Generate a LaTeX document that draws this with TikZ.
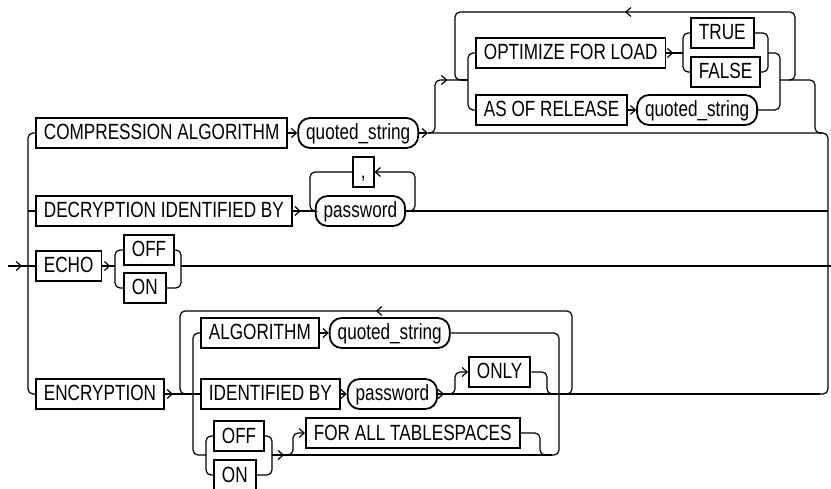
\documentclass[tikz,border=0pt]{standalone}
\usepackage{fontspec}
\setmainfont{Liberation Sans}[FakeStretch=0.78]
\usepackage{tikz}
\usetikzlibrary{arrows.meta,positioning,decorations.markings}

\begin{document}
\begin{tikzpicture}[x=1pt, y=-1pt, >={Straight Barb[length=5pt,width=9pt]},
  every node/.style={font=\fontsize{22pt}{25pt}\selectfont},
  kw/.style={draw, line width=1.8pt, anchor=west, minimum height=30pt, inner xsep=8pt, inner ysep=0pt, text height=17.5pt, text depth=3.5pt},
  ph/.style={kw, rounded corners=12pt},
  rail/.style={line width=1.2pt, rounded corners=5pt},
  midarr/.style={postaction={decorate}, decoration={markings, mark=at position #1 with {\arrow{>}}}}]
  \useasboundingbox (0,0) rectangle (831,489);

  \node[kw] (comp) at (35,133) {COMPRESSION ALGORITHM};
  \node[ph, right=9pt of comp] (cqs) {quoted\_string};
  \node[kw] (opt) at (475,53) {OPTIMIZE FOR LOAD};
  \node[kw] (tru) at (690,33) {TRUE};
  \node[kw] (fal) at (690,72) {FALSE};
  \node[kw] (asof) at (475,110) {AS OF RELEASE};
  \node[ph, right=8pt of asof] (aqs) {quoted\_string};
  \node[kw] (decr) at (35,211) {DECRYPTION IDENTIFIED BY};
  \node[ph, right=22pt of decr] (pwd) {password};
  \node[kw] (comma) at (352,172) {,};
  \node[kw] (echo) at (35,266) {ECHO};
  \node[kw] (eoff) at (123,250) {OFF};
  \node[kw] (eon) at (123,288) {ON};
  \node[kw] (encr) at (35,394) {ENCRYPTION};
  \node[kw] (alg) at (200,333) {ALGORITHM};
  \node[ph, right=9pt of alg] (algqs) {quoted\_string};
  \node[kw] (idby) at (200,394) {IDENTIFIED BY};
  \node[ph, right=6pt of idby] (idpwd) {password};
  \node[kw] (only) at (468,372) {ONLY};
  \node[kw] (toff) at (213,436) {OFF};
  \node[kw] (ton) at (213,475) {ON};
  \node[kw] (fats) at (305,433) {FOR ALL TABLESPACES};

  \coordinate (in) at (8,266);
  \coordinate (out) at (831,266);
  \coordinate (lD) at (28,211);
  \coordinate (cJ) at (428,133);
  \coordinate (cM) at (822,133);
  \coordinate (rD) at (828,211);
  \coordinate (rN) at (820,394);
  \coordinate (lpL) at (461,80);
  \coordinate (lpR) at (789,80);
  \coordinate (iL) at (468,80);
  \coordinate (iR) at (780,80);
  \coordinate (tfL) at (683,53);
  \coordinate (tfR) at (768,53);
  \coordinate (eL) at (115,266);
  \coordinate (eR) at (181,266);
  \coordinate (nlpL) at (186,394);
  \coordinate (nlpR) at (566,394);
  \coordinate (oJ) at (448,394);
  \coordinate (oR) at (554,394);
  \coordinate (tL) at (206,455);
  \coordinate (tJ) at (272,455);
  \coordinate (fJ) at (285,455);
  \coordinate (fE) at (547,455);
  \coordinate (fR) at (552,455);

  \draw[rail, midarr=14pt] (in) -- (echo.west);
  \draw[rail] (comp.west) -- (28,133) -- (28,394) -- (encr.west);
  \draw[rail] (lD) -- (decr.west);
  \draw[rail] (cJ) -- (828,133) -- (828,394) -- (rN);

  \draw[rail, ->] (comp.east) -- (cqs.west);
  \draw[rail, ->] (cqs.east) -- (cJ);
  \draw[rail, midarr=68pt] (cJ) -- (435,133) -- (435,80) -- (lpL);
  \draw[rail, midarr=0.5] (lpR) -- (795,80) -- (795,12) -- (455,12) -- (455,80) -- (lpL);
  \draw[rail] (lpL) -- (iL);
  \draw[rail] (opt.west) -- (468,53) -- (468,110) -- (asof.west);
  \draw[rail, midarr=7pt] (opt.east) -- (tfL);
  \draw[rail] (tru.west) -- (683,33) -- (683,72) -- (fal.west);
  \draw[rail] (tru.east) -- (768,33) -- (768,72) -- (fal.east);
  \draw[rail, ->] (asof.east) -- (aqs.west);
  \draw[rail] (tfR) -- (780,53) -- (780,110) -- (aqs.east);
  \draw[rail] (iR) -- (815,80) -- (815,133) -- (cM);

  \draw[rail, midarr=8pt] (decr.east) -- (pwd.west);
  \draw[rail] (comma.west) -- (310,172) -- (310,211) -- (pwd.west);
  \draw[rail, ->] (pwd.east) -- (415,211) -- (415,172) -- (comma.east);
  \draw[rail] (pwd.east) -- (rD);

  \draw[rail, midarr=8pt] (echo.east) -- (eL);
  \draw[rail] (eoff.west) -- (115,250) -- (115,288) -- (eon.west);
  \draw[rail] (eoff.east) -- (181,250) -- (181,288) -- (eon.east);
  \draw[rail] (eR) -- (out);

  \draw[rail, midarr=8pt] (encr.east) -- (idby.west);
  \draw[rail, midarr=0.5] (nlpR) -- (572,394) -- (572,311) -- (180,311) -- (180,394) -- (nlpL);
  \draw[rail] (alg.west) -- (193,333) -- (193,455) -- (tL);
  \draw[rail, ->] (alg.east) -- (algqs.west);
  \draw[rail] (algqs.east) -- (559,333) -- (559,455) -- (fR);
  \draw[rail, ->] (idby.east) -- (idpwd.west);
  \draw[rail, midarr=6pt] (idpwd.east) -- (rN);
  \draw[rail, ->] (oJ) -- (455,394) -- (455,372) -- (only.west);
  \draw[rail] (only.east) -- (547,372) -- (547,394) -- (oR);
  \draw[rail] (toff.west) -- (206,436) -- (206,475) -- (ton.west);
  \draw[rail] (toff.east) -- (272,436) -- (272,475) -- (ton.east);
  \draw[rail, midarr=12pt] (tJ) -- (fR);
  \draw[rail, ->] (fJ) -- (293,455) -- (293,433) -- (fats.west);
  \draw[rail] (fats.east) -- (540,433) -- (540,455) -- (fE);
\end{tikzpicture}
\end{document}
